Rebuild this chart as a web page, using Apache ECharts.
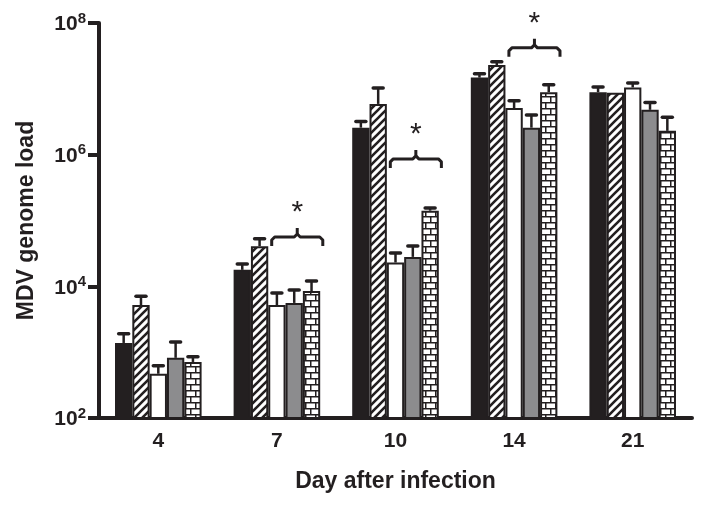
<!DOCTYPE html>
<html lang="en">
<head>
    <meta charset="UTF-8">
    <title>MDV genome load</title>
    <script src="https://cdn.jsdelivr.net/npm/echarts@6/dist/echarts.min.js"></script>
    <style>
        html, body { margin: 0; padding: 0; background: #fff; }
        #charts { width: 704px; height: 507px; }
    </style>
</head>
<body>
<div id="charts"></div>

<script>
    // data
    var days = ['4', '7', '10', '14', '21'];

    var blackVals   = [1380, 17800, 2570000, 14800000, 8900000];
    var hatchVals   = [5200, 40800, 5900000, 23000000, 8700000];
    var whiteVals   = [470, 5200, 23000, 5100000, 10500000];
    var grayVals    = [820, 5600, 28000, 2570000, 4800000];
    var brickVals   = [710, 8500, 141000, 8900000, 2300000];

    // top of the error bars (mean + error)
    var blackErr = [1900, 21900, 3200000, 17000000, 10700000];
    var hatchErr = [7100, 52700, 10300000, 25700000, null];
    var whiteErr = [620, 7950, 32000, 6600000, 12300000];
    var grayErr  = [1430, 8800, 41000, 4000000, 6200000];
    var brickErr = [850, 12000, 155000, 11500000, 3700000];

    // significance brackets (category index, value at bracket foot)
    var bracketDays = [1, 2, 3];
    var bracketBase = [41000, 630000, 30600000];

    var ink = '#231f20';
    var font = '"Liberation Sans", Arial, Helvetica, sans-serif';
    var catGap = 0.27;

    // fill patterns
    function hatchPattern() {
        var c = document.createElement('canvas');
        c.width = 8; c.height = 8;
        var ctx = c.getContext('2d');
        ctx.fillStyle = '#fff';
        ctx.fillRect(0, 0, 8, 8);
        ctx.strokeStyle = ink;
        ctx.lineWidth = 2.6;
        ctx.beginPath();
        ctx.moveTo(-1, 9); ctx.lineTo(9, -1);
        ctx.moveTo(-1, 1); ctx.lineTo(1, -1);
        ctx.moveTo(7, 9); ctx.lineTo(9, 7);
        ctx.stroke();
        return c;
    }

    function brickPattern() {
        var c = document.createElement('canvas');
        c.width = 10; c.height = 12;
        var ctx = c.getContext('2d');
        ctx.fillStyle = '#fff';
        ctx.fillRect(0, 0, 10, 12);
        ctx.fillStyle = ink;
        ctx.fillRect(0, 0, 10, 1.5);
        ctx.fillRect(0, 6, 10, 1.5);
        ctx.fillRect(0, 0, 1.5, 6);
        ctx.fillRect(5, 6, 1.5, 6);
        return c;
    }

    var fills = [
        ink,
        {image: hatchPattern(), repeat: 'repeat'},
        '#ffffff',
        '#8c8c8e',
        {image: brickPattern(), repeat: 'repeat'}
    ];
    var values = [blackVals, hatchVals, whiteVals, grayVals, brickVals];
    var errs = [blackErr, hatchErr, whiteErr, grayErr, brickErr];

    function barWidth(api, v) {
        var band = api.coord([1, v])[0] - api.coord([0, v])[0];
        return band * (1 - catGap) / values.length;
    }

    var series = [];
    values.forEach(function (vals, i) {
        series.push({
            type: 'bar',
            data: vals,
            barGap: '0%',
            barCategoryGap: (catGap * 100) + '%',
            itemStyle: {color: fills[i], borderColor: ink, borderWidth: 2},
            silent: true,
            z: 2
        });
    });

    // error bars
    var errData = [];
    errs.forEach(function (list, s) {
        list.forEach(function (e, d) {
            if (e != null) errData.push([d, values[s][d], e, s]);
        });
    });
    series.push({
        type: 'custom',
        data: errData,
        z: 3,
        silent: true,
        renderItem: function (params, api) {
            var d = api.value(0), s = api.value(3);
            var bw = barWidth(api, api.value(1));
            var low = api.coord([d, api.value(1)]);
            var high = api.coord([d, api.value(2)]);
            var x = low[0] + (s - 2) * bw;
            return {
                type: 'group',
                children: [
                    {type: 'line', shape: {x1: x, y1: low[1], x2: x, y2: high[1]},
                        style: {stroke: ink, lineWidth: 2.5}},
                    {type: 'line', shape: {x1: x - 5, y1: high[1], x2: x + 5, y2: high[1]},
                        style: {stroke: ink, lineWidth: 3.5, lineCap: 'round'}}
                ]
            };
        }
    });

    // brackets + asterisks
    series.push({
        type: 'custom',
        data: bracketDays.map(function (d, i) { return [d, bracketBase[i]]; }),
        z: 3,
        silent: true,
        renderItem: function (params, api) {
            var d = api.value(0);
            var bw = barWidth(api, api.value(1));
            var p = api.coord([d, api.value(1)]);
            var left = p[0] - 2.5 * bw;
            var x0 = left + 2.2 * bw, x1 = left + 5.15 * bw, xm = (x0 + x1) / 2;
            var yb = p[1], yt = yb - 9, yp = yt - 9, r = 3;
            return {
                type: 'group',
                children: [
                    {type: 'polyline', shape: {points: [[x0, yb], [x0, yt + r], [x0 + r, yt], [xm - r, yt], [xm, yt - r], [xm, yp]]},
                        style: {stroke: ink, lineWidth: 3, fill: null, lineJoin: 'round'}},
                    {type: 'polyline', shape: {points: [[xm, yt - r], [xm + r, yt], [x1 - r, yt], [x1, yt + r], [x1, yb]]},
                        style: {stroke: ink, lineWidth: 3, fill: null, lineJoin: 'round'}},
                    {type: 'text', x: xm, y: yp - 15,
                        style: {text: '*', fill: ink, font: '30px ' + font, align: 'center', verticalAlign: 'middle'}}
                ]
            };
        }
    });

    var myChart = echarts.init(document.getElementById('charts'), null, {renderer: 'canvas'});

    var option = {
        animation: false,
        backgroundColor: '#fff',
        grid: {left: 99, right: 12, top: 23, bottom: 89, containLabel: false},
        xAxis: {
            type: 'category',
            data: days,
            name: 'Day after infection',
            nameLocation: 'middle',
            nameGap: 52,
            nameTextStyle: {color: ink, fontSize: 23, fontWeight: 'bold', fontFamily: font},
            axisLine: {lineStyle: {color: ink, width: 4}},
            axisTick: {alignWithLabel: true, length: 8, lineStyle: {color: ink, width: 4}},
            axisLabel: {color: ink, fontSize: 21, fontWeight: 'bold', fontFamily: font, margin: 13}
        },
        yAxis: {
            type: 'log',
            logBase: 10,
            min: 100,
            max: 100000000,
            interval: 2,
            name: 'MDV genome load',
            nameLocation: 'middle',
            nameGap: 61,
            nameTextStyle: {color: ink, fontSize: 23, fontWeight: 'bold', fontFamily: font},
            axisLine: {show: true, lineStyle: {color: ink, width: 4}},
            axisTick: {show: true, length: 11, lineStyle: {color: ink, width: 4}},
            minorTick: {show: false},
            splitLine: {show: false},
            axisLabel: {
                margin: 13,
                formatter: function (v) {
                    return '{b|10}{s|' + Math.round(Math.log(v) / Math.LN10) + '}';
                },
                rich: {
                    b: {color: ink, fontSize: 21, fontWeight: 'bold', fontFamily: font, verticalAlign: 'bottom'},
                    s: {color: ink, fontSize: 15, fontWeight: 'bold', fontFamily: font, verticalAlign: 'bottom', padding: [0, 0, 9, 0]}
                }
            }
        },
        series: series
    };

    myChart.setOption(option);
</script>
</body>
</html>
